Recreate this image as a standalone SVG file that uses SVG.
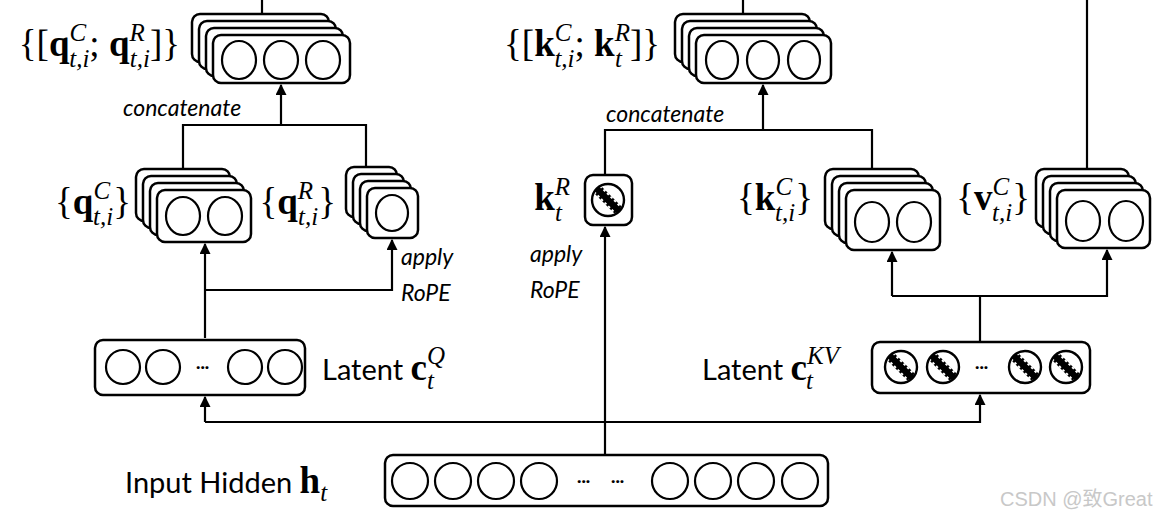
<svg xmlns="http://www.w3.org/2000/svg" xmlns:xlink="http://www.w3.org/1999/xlink" width="1160" height="518" viewBox="0 0 1160 518">
<style>
.b{fill:#fff;stroke:#000;stroke-width:2.5}
.c{fill:#fff;stroke:#000;stroke-width:2.2}
.w{fill:none;stroke:#000;stroke-width:2.2}
.m{font-family:"Liberation Serif","DejaVu Serif",serif;font-size:37px;fill:#000}
.e{text-anchor:end}
.mb{font-weight:bold}
.p{font-style:italic;font-size:25px}
.t{font-family:Lato,"Open Sans",sans-serif;font-size:29px;fill:#000}
.i{font-family:Lato,"Open Sans",sans-serif;font-style:italic;font-size:23px;fill:#000}
.d{font-family:Lato,sans-serif;font-size:16px;font-weight:bold}
</style>
<defs>
<marker id="a" viewBox="0 0 10 10" refX="9" refY="5" markerWidth="5" markerHeight="5" orient="auto"><path d="M0,0L10,5L0,10z"/></marker>
<g id="hc">
<circle r="16" fill="#fff"/>
<line x1="-11" y1="-11" x2="11" y2="11" stroke="#000" stroke-width="10"/>
<line x1="-8" y1="-14" x2="14" y2="8" stroke="#fff" stroke-width="2" stroke-dasharray="2.5 2.5"/>
<line x1="-14" y1="-8" x2="8" y2="14" stroke="#fff" stroke-width="2" stroke-dasharray="2.5 2.5"/>
<circle r="16" fill="none" stroke="#000" stroke-width="2.4"/>
</g>
</defs>
<rect width="1160" height="518" fill="#fff"/>

<g id="connectors" class="w">
<path d="M262,0V14"/>
<path d="M743,0V14"/>
<path d="M1087,0V169"/>
<path d="M183,169V125H366V167M281,125V85" marker-end="url(#a)"/>
<path d="M205,338V244" marker-end="url(#a)"/>
<path d="M205,290H392V240" marker-end="url(#a)"/>
<path d="M205,422V397" marker-end="url(#a)"/>
<path d="M205,422H980V395" marker-end="url(#a)"/>
<path d="M605,455V227" marker-end="url(#a)"/>
<path d="M605,175V130H872V169M763,130V85" marker-end="url(#a)"/>
<path d="M980,342V296"/>
<path d="M892,296V252" marker-end="url(#a)"/>
<path d="M892,296H1107V250" marker-end="url(#a)"/>
</g>

<g id="qq">
<rect class="b" x="192" y="14" width="137" height="48" rx="8"/>
<rect class="b" x="199" y="21" width="137" height="48" rx="8"/>
<rect class="b" x="206" y="28" width="137" height="48" rx="8"/>
<rect class="b" x="213" y="35" width="137" height="48" rx="8"/>
<ellipse class="c" cx="239" cy="60" rx="17" ry="19"/><ellipse class="c" cx="281" cy="60" rx="17" ry="19"/><ellipse class="c" cx="323" cy="60" rx="17" ry="19"/>
<text class="m e" x="180" y="56">{[<tspan class="mb">q</tspan><tspan class="p" dy="-15">C</tspan><tspan class="p" dx="-17" dy="26">t,i</tspan><tspan dy="-11">; </tspan><tspan class="mb">q</tspan><tspan class="p" dy="-15">R</tspan><tspan class="p" dx="-15" dy="26">t,i</tspan><tspan dy="-11">]}</tspan></text>
</g>

<g id="qC">
<rect class="b" x="136" y="169" width="94" height="52" rx="8"/>
<rect class="b" x="143" y="176" width="94" height="52" rx="8"/>
<rect class="b" x="150" y="183" width="94" height="52" rx="8"/>
<rect class="b" x="157" y="190" width="94" height="52" rx="8"/>
<ellipse class="c" cx="183" cy="216" rx="17" ry="19"/><ellipse class="c" cx="225" cy="216" rx="17" ry="19"/>
<text class="m e" x="131" y="214">{<tspan class="mb">q</tspan><tspan class="p" dy="-15">C</tspan><tspan class="p" dx="-17" dy="26">t,i</tspan><tspan dy="-11">}</tspan></text>
</g>

<g id="qR">
<rect class="b" x="346" y="167" width="51" height="50" rx="8"/>
<rect class="b" x="353" y="174" width="51" height="50" rx="8"/>
<rect class="b" x="360" y="181" width="51" height="50" rx="8"/>
<rect class="b" x="367" y="188" width="51" height="50" rx="8"/>
<ellipse class="c" cx="392" cy="213" rx="16" ry="18"/>
<text class="m e" x="336" y="214">{<tspan class="mb">q</tspan><tspan class="p" dy="-15">R</tspan><tspan class="p" dx="-15" dy="26">t,i</tspan><tspan dy="-11">}</tspan></text>
</g>

<text class="i" x="123" y="116">concatenate</text>
<text class="i" x="401" y="265">apply</text>
<text class="i" x="401" y="301">RoPE</text>
<text class="i" x="606" y="122">concatenate</text>
<text class="i" x="530" y="262">apply</text>
<text class="i" x="530" y="298">RoPE</text>

<g id="cQ">
<rect class="b" x="95" y="340" width="210" height="55" rx="8"/>
<circle class="c" cx="123" cy="367" r="17"/><circle class="c" cx="163" cy="367" r="17"/>
<text class="d" x="196" y="372">···</text>
<circle class="c" cx="245" cy="367" r="17"/><circle class="c" cx="285" cy="367" r="17"/>
<text class="t" x="322" y="380">Latent <tspan class="m mb">c</tspan><tspan class="m p" dy="-16">Q</tspan><tspan class="m p" dx="-18" dy="25">t</tspan></text>
</g>

<g id="kk">
<rect class="b" x="675" y="14" width="135" height="48" rx="8"/>
<rect class="b" x="682" y="21" width="135" height="48" rx="8"/>
<rect class="b" x="689" y="28" width="135" height="48" rx="8"/>
<rect class="b" x="696" y="35" width="135" height="48" rx="8"/>
<ellipse class="c" cx="722" cy="60" rx="16" ry="19"/><ellipse class="c" cx="763" cy="60" rx="16" ry="19"/><ellipse class="c" cx="804" cy="60" rx="16" ry="19"/>
<text class="m e" x="660" y="56">{[<tspan class="mb">k</tspan><tspan class="p" dy="-15">C</tspan><tspan class="p" dx="-17" dy="26">t,i</tspan><tspan dy="-11">; </tspan><tspan class="mb">k</tspan><tspan class="p" dy="-15">R</tspan><tspan class="p" dx="-15" dy="26">t</tspan><tspan dx="8" dy="-11">]}</tspan></text>
</g>

<g id="kR">
<rect class="b" x="585" y="175" width="47" height="50" rx="8"/>
<use xlink:href="#hc" transform="translate(608,200)"/>
<text class="m e" x="570" y="210"><tspan class="mb">k</tspan><tspan class="p" dy="-15">R</tspan><tspan class="p" dx="-15" dy="26">t</tspan><tspan dx="8"> </tspan></text>
</g>

<g id="kC">
<rect class="b" x="825" y="169" width="94" height="60" rx="8"/>
<rect class="b" x="832" y="176" width="94" height="60" rx="8"/>
<rect class="b" x="839" y="183" width="94" height="60" rx="8"/>
<rect class="b" x="846" y="190" width="94" height="60" rx="8"/>
<ellipse class="c" cx="872" cy="222" rx="17" ry="20"/><ellipse class="c" cx="914" cy="222" rx="17" ry="20"/>
<text class="m e" x="813" y="210">{<tspan class="mb">k</tspan><tspan class="p" dy="-15">C</tspan><tspan class="p" dx="-17" dy="26">t,i</tspan><tspan dy="-11">}</tspan></text>
</g>

<g id="vC">
<rect class="b" x="1036" y="169" width="93" height="58" rx="8"/>
<rect class="b" x="1043" y="176" width="93" height="58" rx="8"/>
<rect class="b" x="1050" y="183" width="93" height="58" rx="8"/>
<rect class="b" x="1057" y="190" width="93" height="58" rx="8"/>
<ellipse class="c" cx="1083" cy="221" rx="17" ry="20"/><ellipse class="c" cx="1126" cy="221" rx="17" ry="20"/>
<text class="m e" x="1030" y="210">{<tspan class="mb">v</tspan><tspan class="p" dy="-15">C</tspan><tspan class="p" dx="-17" dy="26">t,i</tspan><tspan dy="-11">}</tspan></text>
</g>

<g id="cKV">
<rect class="b" x="872" y="342" width="218" height="51" rx="8"/>
<use xlink:href="#hc" transform="translate(901,367)"/>
<use xlink:href="#hc" transform="translate(943,367)"/>
<text class="d" x="975" y="372">···</text>
<use xlink:href="#hc" transform="translate(1025,367)"/>
<use xlink:href="#hc" transform="translate(1066,367)"/>
<text class="t" x="702" y="380">Latent <tspan class="m mb">c</tspan><tspan class="m p" dy="-16">KV</tspan><tspan class="m p" dx="-33" dy="25">t</tspan></text>
</g>

<g id="input">
<rect class="b" x="385" y="455" width="443" height="51" rx="8"/>
<circle class="c" cx="410" cy="481" r="18"/><circle class="c" cx="453" cy="481" r="18"/><circle class="c" cx="496" cy="481" r="18"/><circle class="c" cx="539" cy="481" r="18"/>
<text class="d" x="577" y="486">···</text><text class="d" x="611" y="486">···</text>
<circle class="c" cx="670" cy="481" r="18"/><circle class="c" cx="713" cy="481" r="18"/><circle class="c" cx="756" cy="481" r="18"/><circle class="c" cx="800" cy="481" r="18"/>
<text class="t" x="125" y="493">Input Hidden <tspan class="m mb">h</tspan><tspan class="m p" dy="8">t</tspan></text>
</g>

<text x="1000" y="506" font-family="'Liberation Sans','Noto Sans CJK SC',sans-serif" font-size="20" fill="#c8c8c8">CSDN @致Great</text>
</svg>
